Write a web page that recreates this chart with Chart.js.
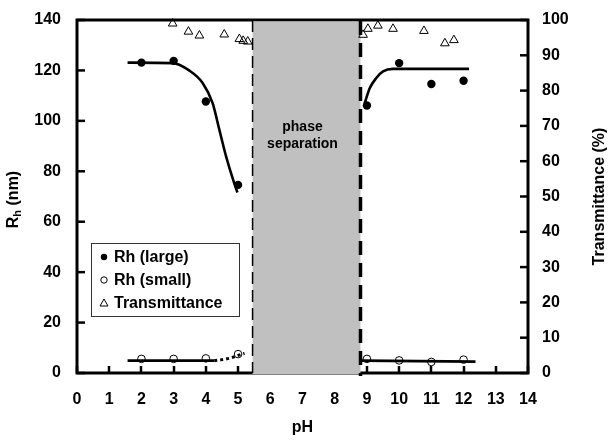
<!DOCTYPE html>
<html><head><meta charset="utf-8">
<script src="https://cdn.jsdelivr.net/npm/chart.js@4.4.1/dist/chart.umd.min.js"></script>
<style>html,body{margin:0;padding:0;background:#fff;}#wrap{width:613px;height:442px;}</style>
</head><body><div id="wrap"><canvas id="c" width="613" height="442"></canvas></div>
<script>
const xTicks = [0,1,2,3,4,5,6,7,8,9,10,11,12,13,14];
const rhTicks = [0,20,40,60,80,100,120,140];
const trTicks = [0,10,20,30,40,50,60,70,80,90,100];
const phLarge = [2,3,4,5,9,10,11,12];
const rhLarge = [123.1,123.8,107.7,74.6,106.1,122.9,114.6,115.9];
const phSmall = [2,3,4,5,9,10,11,12];
const rhSmall = [5.6,5.6,5.8,7.5,5.6,5.0,4.4,5.3];
const phTrans = [2.97,3.46,3.80,4.57,5.04,5.16,5.30,8.88,9.03,9.34,9.81,10.77,11.42,11.70];
const trans = [99.0,96.7,95.6,95.9,94.6,94.1,93.9,95.8,97.5,98.4,97.5,96.9,93.4,94.3];
const fitLargeLowX = [1.57,2.97,3.48,3.90,4.21,4.42,4.63,4.88,4.98];
const fitLargeLowY = [123.1,122.9,120.0,115.0,107.0,96.4,85.8,75.3,71.6];
const fitLargeHighX = [8.93,9.09,9.29,9.50,9.81,12.17];
const fitLargeHighY = [107.0,113.0,117.0,119.6,120.6,120.6];
const fitSmallLowX = [1.57,4.26];
const fitSmallLowY = [4.9,4.9];
const fitSmallDotX = [4.26,4.50,4.75,5.00,5.20];
const fitSmallDotY = [4.9,5.3,5.9,7.0,7.8];
const fitSmallHighX = [8.80,12.37];
const fitSmallHighY = [4.9,4.5];
const phaseSeparation = [5.45, 8.8];
const phaseLabel = ['phase','separation'];
const legendLabels = ['Rh (large)','Rh (small)','Transmittance'];

const zip = (xs, ys) => xs.map((v,i) => ({x:v, y:ys[i]}));
const FONT = "'Liberation Sans', Arial, sans-serif";

function fitLine(xs, ys, dash, width) {
  return {type:'scatter', data: zip(xs, ys), showLine:true, borderColor:'#000', borderWidth:width||2.6,
    borderDash: dash||[], pointRadius:0, pointHoverRadius:0, cubicInterpolationMode:'monotone',
    yAxisID:'y', clip:false, order:2};
}
function fixPad(s){ s.paddingTop = 0; s.paddingBottom = 0; s.paddingLeft = 0; s.paddingRight = 0; }

const deco = {
  id:'deco',
  beforeDatasetsDraw(chart){
    const {ctx, chartArea:a, scales} = chart;
    const x = scales.x, y = scales.y, y2 = scales.y2;
    ctx.save();
    ctx.strokeStyle = '#000'; ctx.lineCap = 'butt';
    ctx.lineWidth = 2.5;
    xTicks.forEach(v => { const px = Math.round(x.getPixelForValue(v)); ctx.beginPath(); ctx.moveTo(px, a.bottom); ctx.lineTo(px, a.bottom-7); ctx.stroke(); });
    rhTicks.forEach(v => { const py = y.getPixelForValue(v); ctx.beginPath(); ctx.moveTo(a.left, py); ctx.lineTo(a.left+8, py); ctx.stroke(); });
    trTicks.forEach(v => { const py = y2.getPixelForValue(v); ctx.beginPath(); ctx.moveTo(a.right, py); ctx.lineTo(a.right-8, py); ctx.stroke(); });
    ctx.lineWidth = 3;
    ctx.strokeRect(a.left, a.top, a.right-a.left, a.bottom-a.top);
    const g0 = x.getPixelForValue(phaseSeparation[0]), g1 = x.getPixelForValue(phaseSeparation[1]);
    ctx.fillStyle = '#c0c0c0';
    ctx.fillRect(g0, a.top+1.5, g1-g0, a.bottom-a.top-0.5);
    ctx.setLineDash([12,6]); ctx.lineWidth = 1.5;
    ctx.beginPath(); ctx.moveTo(g0, a.top); ctx.lineTo(g0, a.bottom); ctx.stroke();
    ctx.setLineDash([14,8]); ctx.lineWidth = 3.5;
    ctx.beginPath(); ctx.moveTo(g1, a.top+1); ctx.lineTo(g1, a.bottom+3); ctx.stroke();
    ctx.setLineDash([]);
    ctx.fillStyle = '#000'; ctx.font = 'bold 14px ' + FONT; ctx.textAlign = 'center'; ctx.textBaseline = 'middle';
    const tx = x.getPixelForValue(7);
    ctx.fillText(phaseLabel[0], tx, a.top+107);
    ctx.fillText(phaseLabel[1], tx, a.top+124);
    ctx.restore();
  },
  afterDraw(chart){
    const {ctx, chartArea:a} = chart;
    ctx.save();
    ctx.fillStyle = '#000';
    ctx.textBaseline = 'middle';
    ctx.font = 'bold 16px ' + FONT; ctx.textAlign = 'center';
    ctx.fillText('pH', (a.left+a.right)/2, 428);
    const cy = (a.top+a.bottom)/2 + 3;
    ctx.save();
    ctx.translate(12, cy); ctx.rotate(-Math.PI/2);
    ctx.textAlign = 'left'; ctx.textBaseline = 'alphabetic';
    ctx.font = 'bold 16px ' + FONT; const wR = ctx.measureText('R').width;
    ctx.font = 'bold 11px ' + FONT; const wh = ctx.measureText('h').width;
    ctx.font = 'bold 16px ' + FONT; const wRest = ctx.measureText(' (nm)').width;
    const tot = wR + wh + wRest; let sx = -tot/2;
    ctx.fillText('R', sx, 6); sx += wR;
    ctx.font = 'bold 11px ' + FONT; ctx.fillText('h', sx, 9); sx += wh;
    ctx.font = 'bold 16px ' + FONT; ctx.fillText(' (nm)', sx, 6);
    ctx.restore();
    ctx.save();
    ctx.translate(600, (a.top+a.bottom)/2); ctx.rotate(-Math.PI/2);
    ctx.textAlign = 'center'; ctx.textBaseline = 'middle'; ctx.font = 'bold 16px ' + FONT;
    ctx.fillText('Transmittance (%)', 0, 0);
    ctx.restore();
    const lx = a.left + 14, ly = a.top + 223, lw = 148, lh = 73;
    ctx.fillStyle = '#fff'; ctx.fillRect(lx, ly, lw, lh);
    ctx.strokeStyle = '#333'; ctx.lineWidth = 1; ctx.strokeRect(lx+0.5, ly+0.5, lw, lh);
    ctx.font = 'bold 16px ' + FONT; ctx.textAlign = 'left'; ctx.textBaseline = 'middle'; ctx.fillStyle = '#000';
    const rows = [ly+14, ly+37, ly+60];
    const mx = lx + 13;
    legendLabels.forEach((t,i) => ctx.fillText(t, lx+23, rows[i]+1));
    ctx.strokeStyle = '#000'; ctx.lineWidth = 1;
    ctx.beginPath(); ctx.arc(mx, rows[0], 3.2, 0, Math.PI*2); ctx.fill();
    ctx.beginPath(); ctx.arc(mx, rows[1], 3.2, 0, Math.PI*2); ctx.stroke();
    ctx.beginPath(); ctx.moveTo(mx, rows[2]-4); ctx.lineTo(mx+4, rows[2]+3); ctx.lineTo(mx-4, rows[2]+3); ctx.closePath(); ctx.stroke();
    ctx.restore();
  }
};

const tickFont = {family: FONT, size: 16, weight: 'bold'};
new Chart(document.getElementById('c'), {
  type: 'scatter',
  data: {
    datasets: [
      fitLine(fitLargeLowX, fitLargeLowY),
      fitLine(fitLargeHighX, fitLargeHighY),
      fitLine(fitSmallLowX, fitSmallLowY),
      fitLine(fitSmallDotX, fitSmallDotY, [3,3], 3),
      fitLine(fitSmallHighX, fitSmallHighY),
      {label: legendLabels[0], data: zip(phLarge, rhLarge), yAxisID:'y', pointStyle:'circle', pointRadius:4.2,
        backgroundColor:'#000', borderColor:'#000', borderWidth:0, clip:false, order:1},
      {label: legendLabels[1], data: zip(phSmall, rhSmall), yAxisID:'y', pointStyle:'circle', pointRadius:3.8,
        backgroundColor:'rgba(0,0,0,0)', borderColor:'#000', borderWidth:1, clip:false, order:1},
      {label: legendLabels[2], data: zip(phTrans, trans), yAxisID:'y2', pointStyle:'triangle', pointRadius:5,
        backgroundColor:'rgba(0,0,0,0)', borderColor:'#000', borderWidth:1, clip:false, order:1}
    ]
  },
  options: {
    responsive: false, animation: false, devicePixelRatio: 1,
    layout: {padding: {top: 20, left: 0, right: 0, bottom: 0}},
    plugins: {legend: {display:false}, tooltip: {enabled:false}},
    events: [],
    scales: {
      x: {type:'linear', min:0, max:14, position:'bottom',
        afterBuildTicks: s => { s.ticks = xTicks.map(v => ({value:v})); },
        afterFit: s => { s.height = 69; fixPad(s); },
        grid:{display:false, drawTicks:false}, border:{display:false},
        ticks:{font: tickFont, color:'#000', padding: 17, maxRotation:0, autoSkip:false}},
      y: {type:'linear', min:0, max:140, position:'left',
        afterBuildTicks: s => { s.ticks = rhTicks.map(v => ({value:v})); },
        afterFit: s => { s.width = 77; fixPad(s); },
        grid:{display:false, drawTicks:false}, border:{display:false},
        ticks:{font: tickFont, color:'#000', padding: 16}},
      y2: {type:'linear', min:0, max:100, position:'right',
        afterBuildTicks: s => { s.ticks = trTicks.map(v => ({value:v})); },
        afterFit: s => { s.width = 85; fixPad(s); },
        grid:{display:false, drawTicks:false}, border:{display:false},
        ticks:{font: tickFont, color:'#000', padding: 14}}
    }
  },
  plugins: [deco]
});
</script></body></html>
